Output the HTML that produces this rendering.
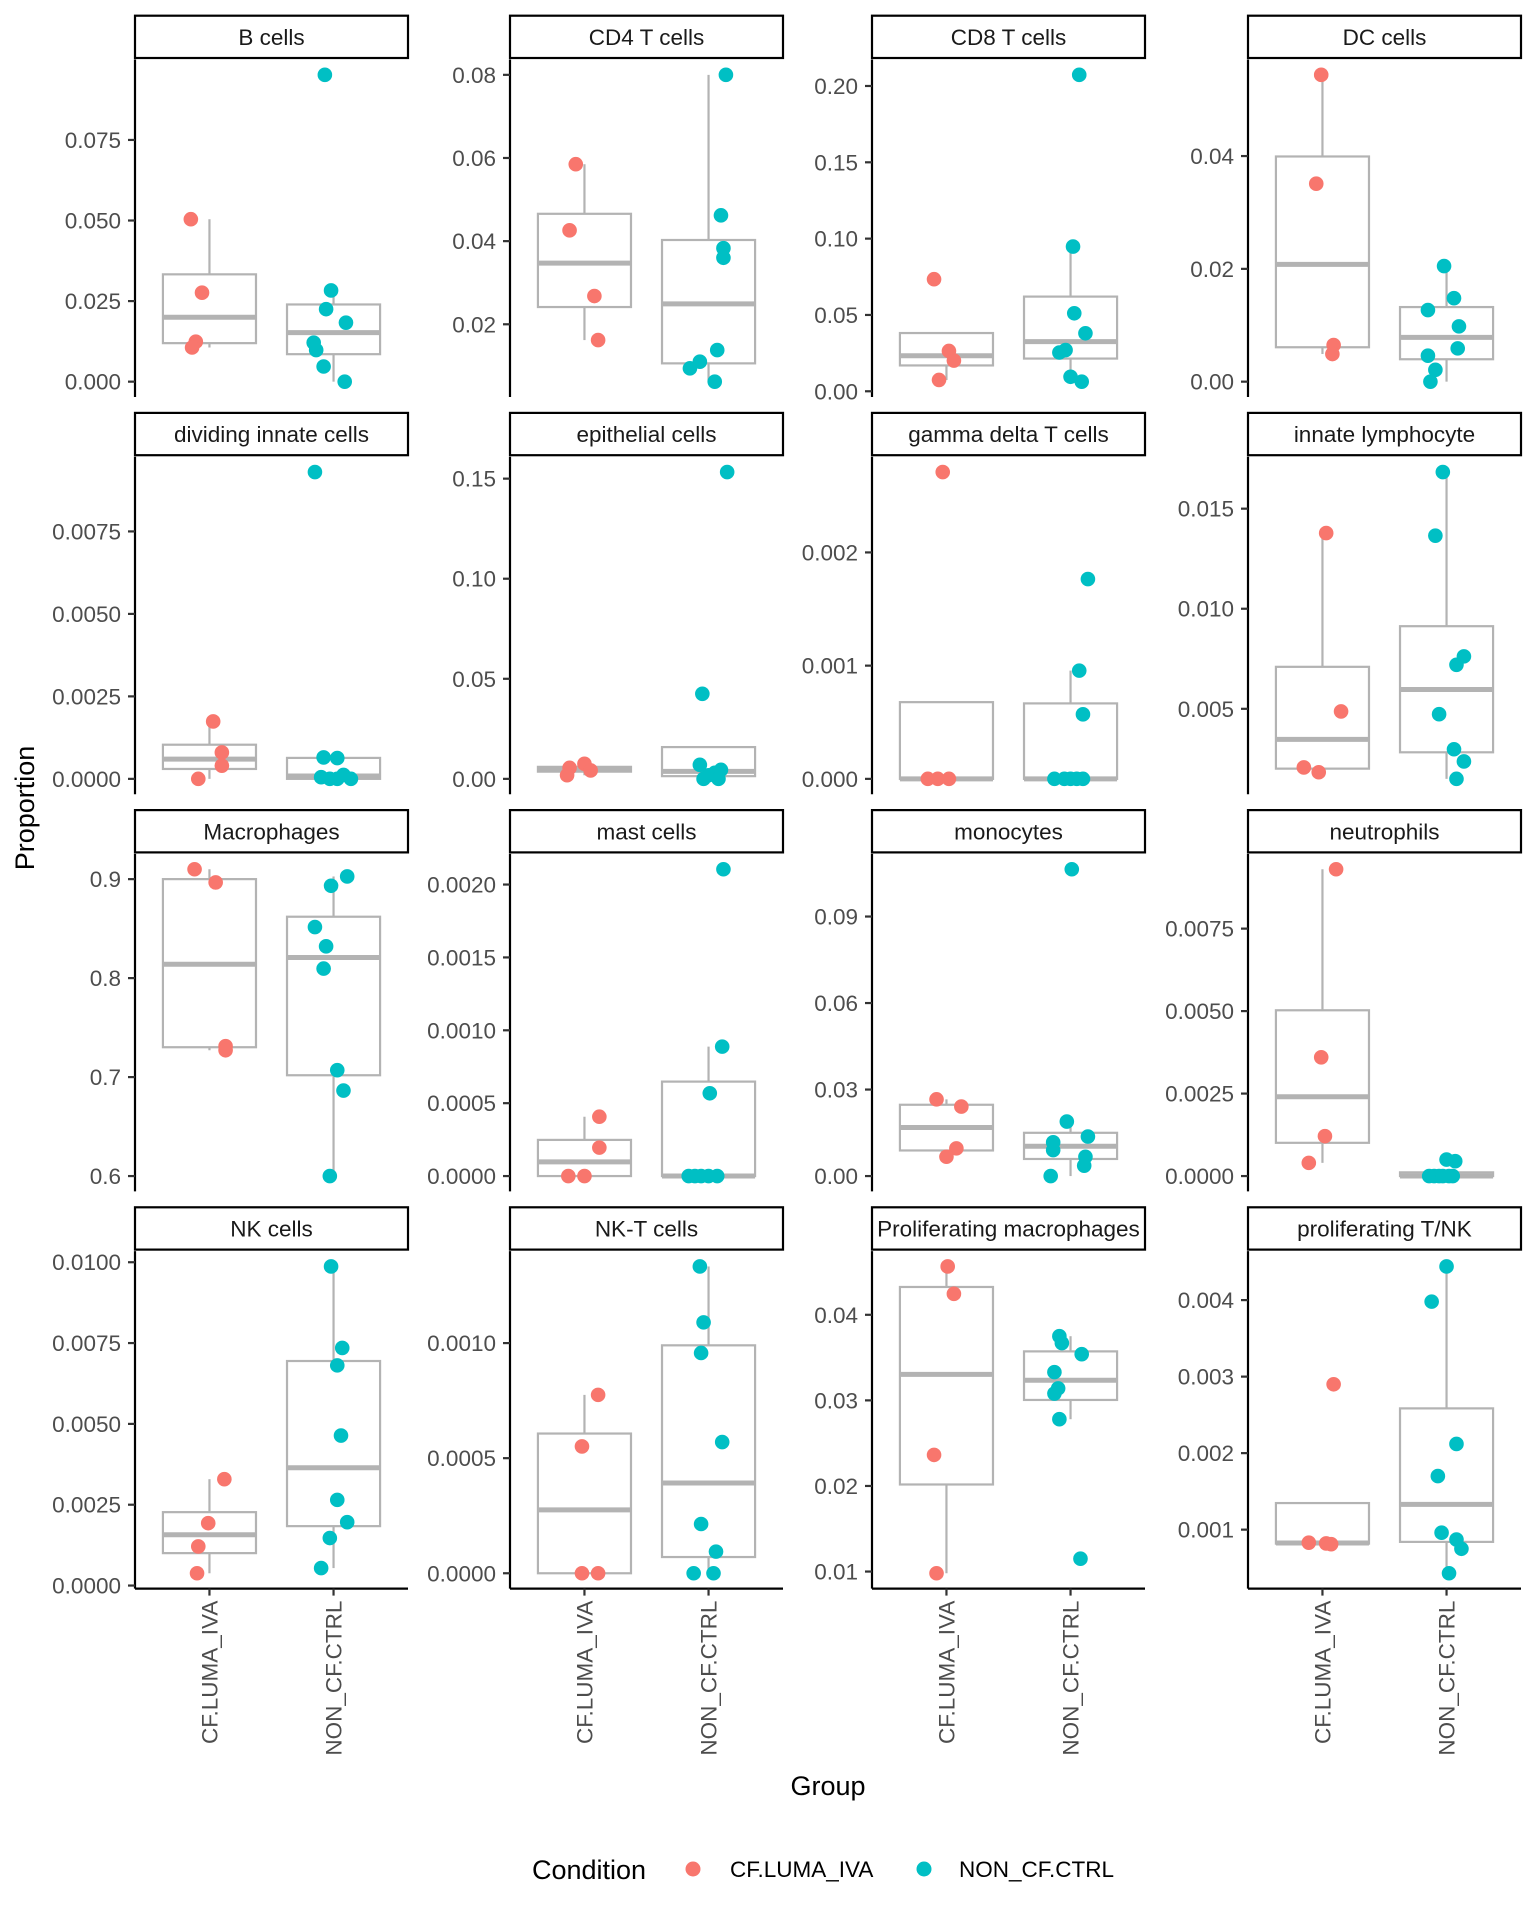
<!DOCTYPE html>
<html><head><meta charset="utf-8"><style>
html,body{margin:0;padding:0;background:#fff;}
svg{display:block;font-family:"Liberation Sans",Arial,sans-serif;}
</style></head><body>
<svg id="chart" width="1536" height="1920" viewBox="0 0 1536 1920" xmlns="http://www.w3.org/2000/svg">
<rect width="1536" height="1920" fill="#fff"/>
<g id="panels"></g>
<text x="0" y="0" transform="translate(34,808) rotate(-90)" text-anchor="middle" font-size="27" fill="#000">Proportion</text>
<text x="828" y="1795" text-anchor="middle" font-size="27" fill="#000">Group</text>
<g>
<text x="532" y="1879" font-size="27" fill="#000">Condition</text>
<circle cx="693" cy="1869" r="7.5" fill="#F8766D"/>
<text x="730" y="1877" font-size="22.5" fill="#000">CF.LUMA_IVA</text>
<circle cx="924" cy="1869" r="7.5" fill="#00BFC4"/>
<text x="959" y="1877" font-size="22.5" fill="#000">NON_CF.CTRL</text>
</g>
</svg>
<script>
const panelNames=["B cells","CD4 T cells","CD8 T cells","DC cells","dividing innate cells","epithelial cells","gamma delta T cells","innate lymphocyte","Macrophages","mast cells","monocytes","neutrophils","NK cells","NK-T cells","Proliferating macrophages","proliferating T/NK"];
const categories=["CF.LUMA_IVA","NON_CF.CTRL"];
const redVals=[
[0.0504,0.0276,0.0124,0.0106],
[0.0585,0.0426,0.0268,0.0162],
[0.0734,0.0264,0.0201,0.0074],
[0.0544,0.0351,0.0065,0.0049],
[0.00174,0.0008,0.0004,0],
[0.0075,0.0055,0.0042,0.0018],
[0.00271,0,0,0],
[0.01378,0.00487,0.00207,0.00183],
[0.910,0.8967,0.7312,0.7271],
[0.000407,0.000195,0,0],
[0.0266,0.0241,0.0096,0.0067],
[0.0093,0.0036,0.00121,0.0004],
[0.00329,0.00193,0.00121,0.00038],
[0.000775,0.000551,0,0],
[0.04565,0.04245,0.02363,0.0098],
[0.0029,0.00083,0.00082,0.00081]];
const tealVals=[
[0.0952,0.0283,0.0225,0.0183,0.0121,0.0098,0.0047,0],
[0.08,0.0462,0.0383,0.036,0.0138,0.011,0.0094,0.0062],
[0.2073,0.0948,0.0511,0.038,0.027,0.0254,0.0095,0.0063],
[0.0205,0.0148,0.0127,0.0098,0.0059,0.0046,0.0021,0],
[0.0093,0.00065,0.00063,0.00012,0.00005,0,0,0],
[0.1533,0.0425,0.007,0.0045,0.003,0.0018,0,0],
[0.001765,0.000956,0.00057,0,0,0,0,0],
[0.01683,0.01365,0.00762,0.0072,0.00473,0.00298,0.00237,0.0015],
[0.9027,0.8933,0.8516,0.8321,0.8096,0.707,0.6864,0.6],
[0.002105,0.000888,0.000568,0,0,0,0,0],
[0.1064,0.0189,0.0137,0.0117,0.009,0.0067,0.0036,0],
[0.0005,0.00045,0,0,0,0,0,0],
[0.00987,0.00735,0.00681,0.00464,0.00265,0.00196,0.00147,0.00054],
[0.001333,0.00109,0.000957,0.00057,0.000214,0.000094,0,0],
[0.0375,0.0367,0.0354,0.0333,0.0314,0.0308,0.0278,0.0115],
[0.00444,0.00398,0.00212,0.0017,0.00096,0.00087,0.00075,0.00043]];
const redJitter=[
[-0.15,-0.06,-0.11,-0.14],[-0.07,-0.12,0.08,0.11],[-0.10,0.02,0.06,-0.06],[-0.01,-0.05,0.09,0.08],
[0.03,0.10,0.10,-0.09],[0.0,-0.12,0.05,-0.14],[-0.03,-0.15,-0.07,0.02],[0.03,0.15,-0.15,-0.03],
[-0.12,0.05,0.13,0.13],[0.12,0.12,-0.13,0.0],[-0.08,0.12,0.08,0.0],[0.11,-0.01,0.02,-0.11],
[0.12,-0.01,-0.09,-0.10],[0.11,-0.02,-0.02,0.11],[0.01,0.06,-0.10,-0.08],[0.09,-0.11,0.03,0.07]];
const tealJitter=[
[-0.07,-0.02,-0.06,0.10,-0.16,-0.14,-0.08,0.09],[0.14,0.10,0.12,0.12,0.07,-0.07,-0.15,0.05],
[0.07,0.02,0.03,0.12,-0.04,-0.09,0.0,0.09],[-0.02,0.06,-0.15,0.10,0.09,-0.15,-0.09,-0.13],
[-0.15,-0.08,0.03,0.08,-0.10,0.03,0.14,-0.03],[0.15,-0.05,-0.07,0.10,0.05,0.0,-0.04,0.08],
[0.14,0.07,0.10,-0.13,-0.05,0.0,0.05,0.10],[-0.03,-0.09,0.14,0.08,-0.06,0.06,0.14,0.08],
[0.11,-0.02,-0.15,-0.06,-0.08,0.03,0.08,-0.03],[0.12,0.11,0.01,-0.16,-0.11,-0.06,0.0,0.07],
[0.01,-0.03,0.14,-0.14,-0.14,0.12,0.11,-0.16],[0.0,0.07,-0.14,-0.10,-0.06,-0.03,0.02,0.05],
[-0.02,0.07,0.03,0.06,0.03,0.11,-0.03,-0.10],[-0.07,-0.04,-0.06,0.11,-0.06,0.06,-0.12,0.04],
[-0.09,-0.07,0.09,-0.13,-0.10,-0.13,-0.09,0.08],[0.0,-0.12,0.08,-0.07,-0.04,0.08,0.12,0.02]];
const tickVals=[
[0,0.025,0.05,0.075],[0.02,0.04,0.06,0.08],[0,0.05,0.10,0.15,0.20],[0,0.02,0.04],
[0,0.0025,0.005,0.0075],[0,0.05,0.10,0.15],[0,0.001,0.002],[0.005,0.010,0.015],
[0.6,0.7,0.8,0.9],[0,0.0005,0.001,0.0015,0.002],[0,0.03,0.06,0.09],[0,0.0025,0.005,0.0075],
[0,0.0025,0.005,0.0075,0.01],[0,0.0005,0.001],[0.01,0.02,0.03,0.04],[0.001,0.002,0.003,0.004]];
const tickDecimals=[3,2,2,2,4,2,3,3,1,4,2,4,4,4,2,3];

const NS="http://www.w3.org/2000/svg";
const colLeft=[135,510,872,1248];
const PW=273, ROWSTEP=397.2, PTOP=59.5, PBOT=397;
const COLORS=["#F8766D","#00BFC4"];
const root=document.getElementById("panels");
function mk(tag,attrs,parent){const e=document.createElementNS(NS,tag);for(const k in attrs)e.setAttribute(k,attrs[k]);parent.appendChild(e);return e;}
function quant(sorted,p){const h=(sorted.length-1)*p;const lo=Math.floor(h);const hi=Math.ceil(h);return sorted[lo]+(h-lo)*(sorted[hi]-sorted[lo]);}
function slug(s){return s.toLowerCase().replace(/[^a-z0-9]+/g,'-').replace(/^-|-$/g,'');}

panelNames.forEach((name,i)=>{
  const row=Math.floor(i/4), col=i%4;
  const left=colLeft[col], rt=row*ROWSTEP;
  const top=rt+PTOP, bot=rt+PBOT, H=bot-top;
  const all=redVals[i].concat(tealVals[i]);
  const lo=Math.min(...all), hi=Math.max(...all), r=(hi-lo)||1;
  const ymin=lo-0.05*r, ymax=hi+0.05*r;
  const y=v=>bot-(v-ymin)/(ymax-ymin)*H;
  const unit=PW/2.2;
  const x=(c)=>left+(c+0.6)*unit;
  const g=mk("g",{},root);
  
  
  const strip=mk("rect",{x:left,y:rt+15.7,width:PW,height:42.3,fill:"#fff",stroke:"#000","stroke-width":2.2},g);
  
  
  const st=mk("text",{x:left+PW/2,y:rt+45,"text-anchor":"middle","font-size":22.5,fill:"#1A1A1A"},g);
  st.textContent=name;
  
  
  const ax=mk("line",{x1:left,x2:left,y1:top,y2:bot,stroke:"#000","stroke-width":2.2},g);
  
  
  tickVals[i].forEach(t=>{
    const ty=y(t);
    const tk=mk("line",{x1:left-7,x2:left,y1:ty,y2:ty,stroke:"#333","stroke-width":2.2},g);
    
    
    const tl=mk("text",{x:left-14,y:ty+8,"text-anchor":"end","font-size":22.5,fill:"#4D4D4D"},g);
    tl.textContent=t.toFixed(tickDecimals[i]);
    
    
  });
  [redVals[i],tealVals[i]].forEach((vals,c)=>{
    const s=vals.slice().sort((a,b)=>a-b);
    const q1=quant(s,0.25), med=quant(s,0.5), q3=quant(s,0.75), iqr=q3-q1;
    const wUp=Math.max(...s.filter(v=>v<=q3+1.5*iqr));
    const wLo=Math.min(...s.filter(v=>v>=q1-1.5*iqr));
    const cx=x(c), bw=0.75*unit;
    const bg=mk("g",{stroke:"#B3B3B3",fill:"none"},g);
    
    
    mk("line",{x1:cx,x2:cx,y1:y(q3),y2:y(wUp),"stroke-width":2.2},bg);
    mk("line",{x1:cx,x2:cx,y1:y(q1),y2:y(wLo),"stroke-width":2.2},bg);
    mk("rect",{x:cx-bw/2,y:y(q3),width:bw,height:Math.max(0,y(q1)-y(q3)),fill:"#fff","stroke-width":2.2},bg);
    mk("line",{x1:cx-bw/2,x2:cx+bw/2,y1:y(med),y2:y(med),"stroke-width":5},bg);
  });
  [[redVals[i],redJitter[i]],[tealVals[i],tealJitter[i]]].forEach(([vals,jit],c)=>{
    vals.forEach((v,k)=>{
      const p=mk("circle",{cx:x(c)+jit[k]*unit,cy:y(v),r:7.3,fill:COLORS[c]},g);
      
      
    });
  });
  if(row===3){
    const xa=mk("line",{x1:left,x2:left+PW,y1:bot,y2:bot,stroke:"#000","stroke-width":2.2},g);
    
    
    categories.forEach((cat,c)=>{
      const cx=x(c);
      const tk=mk("line",{x1:cx,x2:cx,y1:bot,y2:bot+7,stroke:"#333","stroke-width":2.2},g);
      
      
      const tl=mk("text",{x:0,y:0,transform:"translate("+(cx+8)+","+(bot+12)+") rotate(-90)","text-anchor":"end","font-size":22.5,fill:"#4D4D4D"},g);
      tl.textContent=cat;
      
      
    });
  }
});
</script>
</body></html>
